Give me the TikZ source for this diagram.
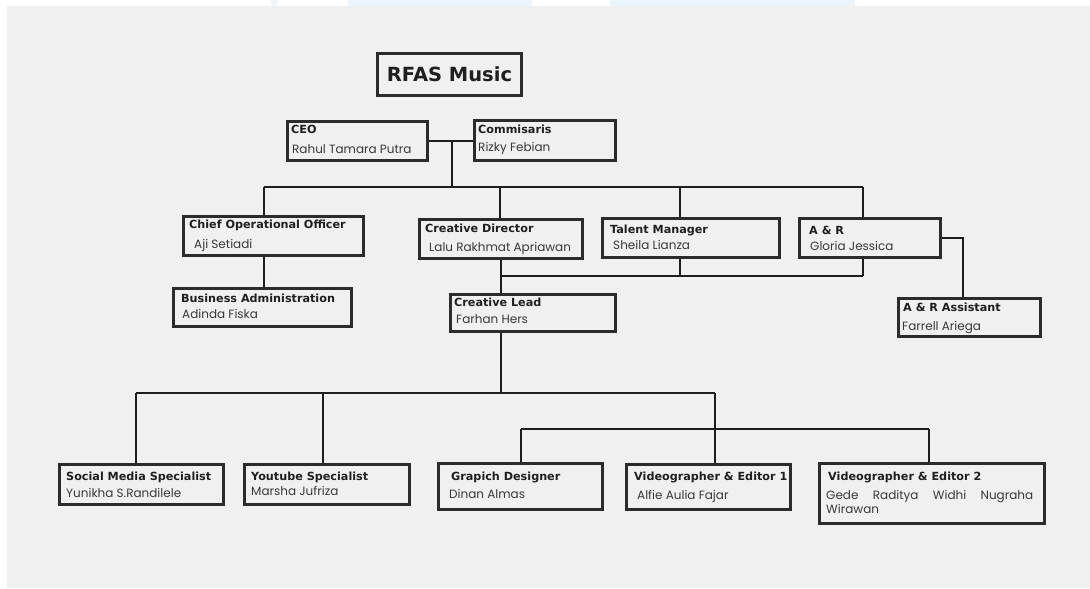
\documentclass[tikz,border=0pt]{standalone}
\usepackage{fontspec}
\setmainfont{Poppins}
\newfontfamily\ttlfont{DejaVu Sans}
\definecolor{bg}{HTML}{F0F0F0}
\definecolor{bord}{HTML}{2B2B2B}
\definecolor{wirec}{HTML}{1E1E1E}
\definecolor{sky}{HTML}{EAF4FC}
\tikzset{
  obox/.style={draw=bord, line width=2.6pt, fill=bg, inner sep=0pt},
  ttl/.style={anchor=base west, inner sep=0pt, font=\ttlfont\bfseries\fontsize{11.2}{13}\selectfont, text=black!88},
  nm/.style={anchor=base west, inner sep=0pt, font=\fontsize{12}{14}\selectfont, text=black!78},
  wire/.style={draw=wirec, line width=1.3pt}
}
\newcommand{\orgbox}[5]{\node[obox, minimum width={(#4-#2-2.6)*1pt}, minimum height={(#5-#3-2.6)*1pt}] (#1) at ({(#2+#4)/2},{(#3+#5)/2}) {};}
\begin{document}
\begin{tikzpicture}[x=1pt, y=-1pt]
\useasboundingbox (0,0) rectangle (1090,589);
\fill[white] (0,0) rectangle (1090,589);
\fill[bg] (7,6) rectangle (1090,588);
\fill[sky] (271,0) -- (278,0) -- (276,6) -- (272,6) -- cycle;
\fill[sky] (348,0) rectangle (532,6);
\fill[sky] (610,0) rectangle (855,6);

% title
\node[obox, minimum width=144.4pt, minimum height=42.4pt, font=\ttlfont\bfseries\fontsize{19.5}{22}\selectfont, text=black!88] (title) at (449.5,74.5) {RFAS Music};

% boxes
\orgbox{ceo}{286}{120}{429}{162}
\orgbox{com}{473}{119}{617}{162}
\orgbox{coo}{182}{215}{365}{257}
\orgbox{ba}{172}{287}{353}{328}
\orgbox{cd}{418}{218}{584}{260}
\orgbox{tm}{601}{217}{781}{259}
\orgbox{ar}{798}{217}{942}{259}
\orgbox{ara}{897}{297}{1042}{338}
\orgbox{cl}{449}{293}{617}{333}
\orgbox{sms}{58}{463}{225}{506}
\orgbox{yt}{243}{463}{411}{506}
\orgbox{gd}{437}{462}{604}{511}
\orgbox{ve1}{625}{463}{792}{511}
\orgbox{ve2}{818}{462}{1046}{525}

% texts
\node[ttl] (ceo-t) at (291,133) {CEO};
\node[nm]  (ceo-n) at (292,153) {Rahul Tamara Putra};
\node[ttl] (com-t) at (478,133) {Commisaris};
\node[nm]  (com-n) at (478,151) {Rizky Febian};
\node[ttl] (coo-t) at (189,228) {Chief Operational Officer};
\node[nm]  (coo-n) at (194,248) {Aji Setiadi};
\node[ttl] (ba-t) at (181,302) {Business Administration};
\node[nm]  (ba-n) at (182,318) {Adinda Fiska};
\node[ttl] (cd-t) at (425,232) {Creative Director};
\node[nm]  (cd-n) at (429,251) {Lalu Rakhmat Apriawan};
\node[ttl] (tm-t) at (610,233) {Talent Manager};
\node[nm]  (tm-n) at (613,249) {Sheila Lianza};
\node[ttl] (ar-t) at (809,234) {A \& R};
\node[nm]  (ar-n) at (810,250) {Gloria Jessica};
\node[ttl] (ara-t) at (903,311) {A \& R Assistant};
\node[nm]  (ara-n) at (902,330) {Farrell Ariega};
\node[ttl] (cl-t) at (454,306) {Creative Lead};
\node[nm]  (cl-n) at (456,323) {Farhan Hers};
\node[ttl] (sms-t) at (66,480) {Social Media Specialist};
\node[nm]  (sms-n) at (66,497) {Yunikha S.Randilele};
\node[ttl] (yt-t) at (251,480) {Youtube Specialist};
\node[nm]  (yt-n) at (251,495) {Marsha Jufriza};
\node[ttl] (gd-t) at (451,480) {Grapich Designer};
\node[nm]  (gd-n) at (449,498) {Dinan Almas};
\node[ttl] (ve1-t) at (634,480) {Videographer \& Editor 1};
\node[nm]  (ve1-n) at (637,499) {Alfie Aulia Fajar};
\node[ttl] (ve2-t) at (828,480) {Videographer \& Editor 2};
\node[nm]  (ve2-n) at (826,499) {\makebox[207pt][s]{Gede Raditya Widhi Nugraha}};
\node[nm]  (ve2-n2) at (826,513) {Wirawan};

% connectors
\coordinate (j1) at (452,141);
\coordinate (b1) at (452,187);
\coordinate (b1l) at (264,187);
\coordinate (b1cd) at (500,187);
\coordinate (b1tm) at (680,187);
\coordinate (b1r) at (863,187);
\draw[wire] (ceo.east |- j1) -- (com.west |- j1);
\draw[wire] (j1) -- (b1);
\draw[wire] (b1l) -- (b1r);
\draw[wire] (b1l) -- (coo.north -| b1l);
\draw[wire] (b1cd) -- (cd.north -| b1cd);
\draw[wire] (b1tm) -- (tm.north -| b1tm);
\draw[wire] (b1r) -- (ar.north -| b1r);
\draw[wire] (coo.south -| b1l) -- (ba.north -| b1l);

\coordinate (arj) at (963,238);
\draw[wire] (ar.east |- arj) -- (arj) -- (ara.north -| arj);

\coordinate (b2l) at (501,276);
\coordinate (b2tm) at (680,276);
\coordinate (b2r) at (863,276);
\draw[wire] (b2l) -- (b2r);
\draw[wire] (tm.south -| b2tm) -- (b2tm);
\draw[wire] (ar.south -| b2r) -- (b2r);
\draw[wire] (cd.south -| b2l) -- (cl.north -| b2l);

\coordinate (b3c) at (501,393);
\coordinate (b3l) at (136,393);
\coordinate (b3yt) at (323,393);
\coordinate (b3r) at (715,393);
\draw[wire] (cl.south -| b3c) -- (b3c);
\draw[wire] (b3l) -- (b3r);
\draw[wire] (b3l) -- (sms.north -| b3l);
\draw[wire] (b3yt) -- (yt.north -| b3yt);
\draw[wire] (b3r) -- (ve1.north -| b3r);

\coordinate (b4l) at (521,429);
\coordinate (b4r) at (929,429);
\draw[wire] (b4l) -- (b4r);
\draw[wire] (b4l) -- (gd.north -| b4l);
\draw[wire] (b4r) -- (ve2.north -| b4r);
\end{tikzpicture}
\end{document}
